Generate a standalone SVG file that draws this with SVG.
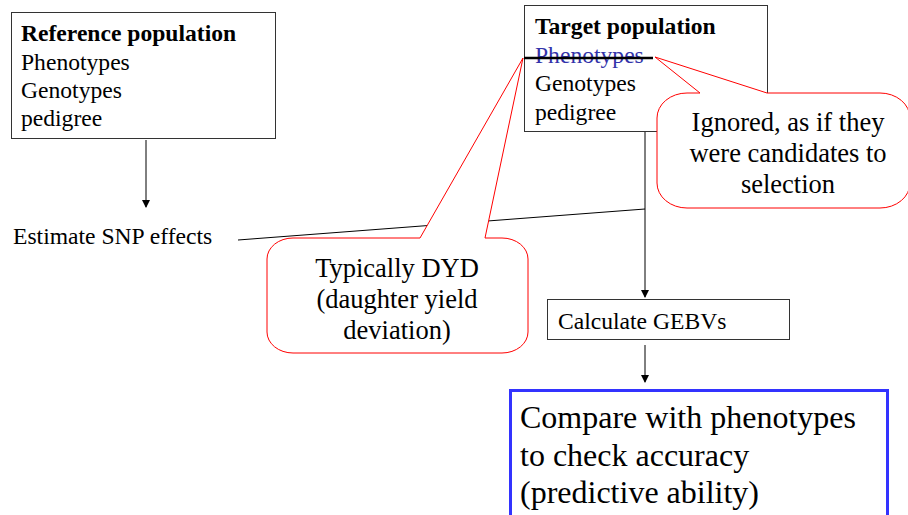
<svg xmlns="http://www.w3.org/2000/svg" width="908" height="515" viewBox="0 0 908 515">
<defs>
<marker id="ah" markerWidth="8" markerHeight="10" refX="7" refY="4" orient="auto" markerUnits="userSpaceOnUse">
<path d="M0,0 L8,4 L0,8 Z" fill="#000"/>
</marker>
<style>
text{font-family:"Liberation Serif","Times New Roman",serif;fill:#000}
.box{fill:#fff;stroke:#333;stroke-width:1}
.call{fill:#fff;stroke:#ff0000;stroke-width:1}
.con{stroke:#000;stroke-width:1;fill:none}
.t20{font-size:23.6px}
.t22{font-size:26.5px}
</style>
</defs>
<rect width="908" height="515" fill="#fff"/>
<g id="connectors">
<line class="con" x1="146" y1="140" x2="146" y2="207" marker-end="url(#ah)"/>
<line class="con" x1="645" y1="103" x2="645" y2="297" marker-end="url(#ah)"/>
<line class="con" x1="238" y1="240" x2="645" y2="209"/>
<line class="con" x1="645" y1="345" x2="645" y2="382" marker-end="url(#ah)"/>
</g>
<g id="reference">
<rect class="box" x="11.5" y="12.5" width="264" height="126"/>
<text x="21" y="41" class="t20" font-weight="bold">Reference population</text>
<text x="21" y="70" class="t20">Phenotypes</text>
<text x="21" y="98" class="t20">Genotypes</text>
<text x="21" y="126" class="t20">pedigree</text>
</g>
<g id="target">
<rect class="box" x="524.5" y="5.5" width="243" height="126"/>
<text x="535" y="34" class="t20" font-weight="bold">Target population</text>
<text x="535" y="63" class="t20" style="fill:#3333aa">Phenotypes</text>
<line x1="524" y1="58" x2="653" y2="58" stroke="#000" stroke-width="2.5"/>
<text x="535" y="91" class="t20">Genotypes</text>
<text x="535" y="120" class="t20">pedigree</text>
</g>
<g id="estimate">
<text x="13" y="244" class="t20">Estimate SNP effects</text>
</g>
<g id="ignored-callout">
<path class="call" d="M687,93 L700,93 L655,57 L767,93 L880,93 A30,25 0 0 1 910,118 L910,183 A30,25 0 0 1 880,208 L687,208 A30,25 0 0 1 657,183 L657,118 A30,25 0 0 1 687,93 Z"/>
<text x="788" y="131" class="t22" text-anchor="middle">Ignored, as if they</text>
<text x="788" y="162" class="t22" text-anchor="middle">were candidates to</text>
<text x="788" y="193" class="t22" text-anchor="middle">selection</text>
</g>
<g id="dyd-callout">
<path class="call" d="M293,238 L420,238 L523,58 L485,238 L502,238 A26,21 0 0 1 528,259 L528,332 A26,21 0 0 1 502,353 L293,353 A26,21 0 0 1 267,332 L267,259 A26,21 0 0 1 293,238 Z"/>
<text x="397" y="277" class="t22" text-anchor="middle">Typically DYD</text>
<text x="397" y="308" class="t22" text-anchor="middle">(daughter yield</text>
<text x="397" y="339" class="t22" text-anchor="middle">deviation)</text>
</g>
<g id="calculate">
<rect class="box" x="547.5" y="299.5" width="242" height="40"/>
<text x="558" y="329" class="t20">Calculate GEBVs</text>
</g>
<g id="compare">
<rect x="510.5" y="390.5" width="377" height="140" fill="#fff" stroke="#3333ff" stroke-width="3"/>
<text x="520" y="428" style="font-size:32px">Compare with phenotypes</text>
<text x="520" y="466" style="font-size:32px">to check accuracy</text>
<text x="520" y="503" style="font-size:32px">(predictive ability)</text>
</g>
</svg>
